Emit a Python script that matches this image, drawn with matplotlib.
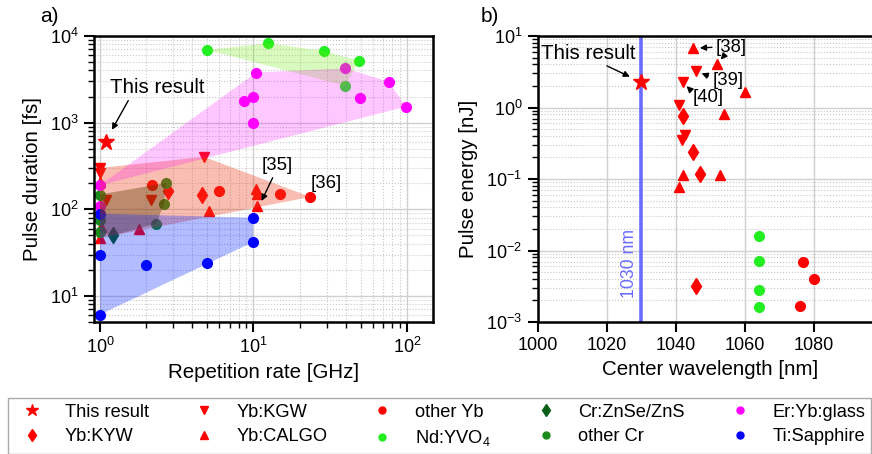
import numpy as np
import matplotlib
matplotlib.use("Agg")
import matplotlib.pyplot as plt
from matplotlib.lines import Line2D

plt.rcParams['font.family'] = ['Liberation Sans', 'DejaVu Sans']
plt.rcParams['mathtext.fontset'] = 'custom'
plt.rcParams['mathtext.rm'] = 'Liberation Sans'
plt.rcParams['mathtext.it'] = 'Liberation Sans:italic'
plt.rcParams['mathtext.bf'] = 'Liberation Sans:bold'

# ---------------- data: panel a (repetition rate [GHz], pulse duration [fs]) ----------------
this_rate, this_dur = [1.09], [600]
kgw_rate = [1.0, 1.0, 1.1, 2.14, 4.76]
kgw_dur = [300, 265, 127, 129, 403]
kyw_rate = [2.79, 4.6]
kyw_dur = [163, 145]
calgo_rate = [1.0, 1.02, 1.0, 1.79, 5.1, 10.4, 10.5, 10.5]
calgo_dur = [207, 62, 46.5, 59, 96, 170, 150, 108]
oyb_rate = [2.18, 5.96, 14.9, 23.5]
oyb_dur = [191, 161, 152, 139]
nd_rate = [5.0, 12.5, 28.8, 48.7, 39.5]
nd_dur = [6900, 8240, 6710, 5190, 2670]
crzn_rate = [1.22]
crzn_dur = [50]
ocr_rate = [1.0, 1.0, 1.0, 2.32, 2.62, 2.69]
ocr_dur = [148, 75, 55, 68, 116, 201]
er_rate = [1.0, 1.0, 10.0, 8.72, 9.9, 10.4, 39.5, 49.2, 76, 98.5]
er_dur = [189, 108, 995, 1790, 1990, 3780, 4240, 1920, 2970, 1530]
er_shaded = [True, False, True, True, True, True, True, True, True, True]
ti_rate = [1.0, 1.0, 1.0, 1.99, 4.96, 9.88, 10.0]
ti_dur = [89, 30, 6.1, 23, 24, 80, 42]

# ---------------- data: panel b (center wavelength [nm], pulse energy [nJ]) ----------------
this_wl, this_en = [1030], [2.27]
kgw_wl = [1046, 1042, 1041, 1042.8, 1041.8]
kgw_en = [3.2, 2.25, 1.1, 0.41, 0.35]
kyw_wl = [1042, 1045, 1047, 1046]
kyw_en = [0.76, 0.24, 0.116, 0.0032]
calgo_wl = [1045, 1052, 1060, 1054, 1042, 1052.8, 1041]
calgo_en = [6.7, 4.1, 1.65, 0.8, 0.112, 0.112, 0.078]
oyb_wl = [1077, 1080, 1076]
oyb_en = [0.0069, 0.004, 0.00168]
nd_wl = [1064, 1064, 1064, 1064]
nd_en = [0.0157, 0.0072, 0.0028, 0.00164]
wl_ticks = [1000, 1020, 1040, 1060, 1080]

# ---------------- styles ----------------
RED = '#ff0000'
C_ND = '#22ee22'
C_CRZN = '#0b5e1a'
C_OCR = '#1a8a1a'
C_ER = '#ff00ff'
C_TI = '#0000ff'


def loghull(xs, ys):
    pts = sorted(set(zip(np.log10(xs), np.log10(ys))))
    if len(pts) < 3:
        return np.array(pts)

    def cross(o, a, b):
        return (a[0] - o[0]) * (b[1] - o[1]) - (a[1] - o[1]) * (b[0] - o[0])
    lower, upper = [], []
    for p in pts:
        while len(lower) >= 2 and cross(lower[-2], lower[-1], p) <= 0:
            lower.pop()
        lower.append(p)
    for p in reversed(pts):
        while len(upper) >= 2 and cross(upper[-2], upper[-1], p) <= 0:
            upper.pop()
        upper.append(p)
    h = np.array(lower[:-1] + upper[:-1])
    return 10 ** h


W, H = 872, 454
fig = plt.figure(figsize=(W / 100, H / 100), dpi=100)

axa = fig.add_axes([94 / W, 1 - 322 / H, (433 - 94) / W, (322 - 36) / H])
axb = fig.add_axes([537.7 / W, 1 - 322 / H, 345 / W, (322 - 36) / H])

for ax in (axa, axb):
    ax.set_axisbelow(True)
    ax.grid(True, which='major', color='#d0d0d0', lw=1.0)
    ax.grid(True, which='minor', color='#c8c8c8', lw=0.8, ls=':')
    for s in ax.spines.values():
        s.set_linewidth(1.8)
    ax.tick_params(which='major', length=7, width=1.5, labelsize=13, pad=4, direction='out')
    ax.tick_params(which='minor', length=4, width=1.0, direction='out')

ms_c, ms_t, ms_d, ms_s = 7, 7.5, 8, 12

# ---------------- panel a ----------------
axa.set_xscale('log')
axa.set_yscale('log')
axa.set_xlim(0.914, 148)
axa.set_ylim(5, 1e4)

axa.plot(kgw_rate, kgw_dur, 'v', color=RED, ms=ms_t, zorder=2)
axa.plot(kyw_rate, kyw_dur, 'd', color=RED, ms=ms_d, zorder=2)
axa.plot(calgo_rate, calgo_dur, '^', color=RED, ms=ms_t, zorder=2)
axa.plot(oyb_rate, oyb_dur, 'o', color=RED, ms=ms_c, zorder=2)
axa.plot(nd_rate, nd_dur, 'o', color=C_ND, ms=ms_c, zorder=2)
axa.plot(crzn_rate, crzn_dur, 'd', color=C_CRZN, ms=ms_d, zorder=2)
axa.plot(ocr_rate, ocr_dur, 'o', color=C_OCR, ms=ms_c, zorder=2)
axa.plot(er_rate, er_dur, 'o', color=C_ER, ms=ms_c, zorder=2)
axa.plot(ti_rate, ti_dur, 'o', color=C_TI, ms=ms_c, zorder=2)
axa.plot(this_rate, this_dur, '*', color=RED, ms=ms_s, zorder=4)

yb_all_r = kgw_rate + kyw_rate + calgo_rate + oyb_rate
yb_all_d = kgw_dur + kyw_dur + calgo_dur + oyb_dur
cr_all_r = crzn_rate + ocr_rate
cr_all_d = crzn_dur + ocr_dur
er_sr = [r for r, f in zip(er_rate, er_shaded) if f]
er_sd = [d for d, f in zip(er_dur, er_shaded) if f]

for xs, ys, col, al in [(yb_all_r, yb_all_d, '#ee4422', 0.35),
                         (nd_rate, nd_dur, '#66ee00', 0.25),
                         (er_sr, er_sd, '#ff00ff', 0.22),
                         (cr_all_r, cr_all_d, '#5a3800', 0.38),
                         (ti_rate, ti_dur, '#0022ff', 0.3)]:
    h = loghull(xs, ys)
    axa.fill(h[:, 0], h[:, 1], color=col, alpha=al, lw=0, zorder=3)

axa.set_xlabel('Repetition rate [GHz]', fontsize=14.8)
axa.set_ylabel('Pulse duration [fs]', fontsize=14.8, labelpad=6)

arw = dict(arrowstyle='-|>', color='black', lw=1.0, mutation_scale=9, shrinkA=1, shrinkB=3)
axa.annotate('This result', xy=(1.16, 750), xytext=(2.35, 2570), fontsize=14.8,
             ha='center', va='center',
             arrowprops=dict(arw, relpos=(0.22, 0.0)), zorder=5)
axa.annotate('[35]', xy=(11.0, 113), xytext=(14.4, 323), fontsize=13.3,
             ha='center', va='center',
             arrowprops=dict(arw, relpos=(0.4, 0.0)), zorder=5)
axa.text(30.0, 200, '[36]', fontsize=13.3, ha='center', va='center', zorder=5)

# ---------------- panel b ----------------
axb.set_yscale('log')
axb.set_xlim(1000, 1100)
axb.set_ylim(1e-3, 10)
axb.set_xticks(wl_ticks)

axb.axvline(1030, color='#6b6bff', lw=2.6, zorder=1.5)
axb.text(1026.5, 0.0066, '1030 nm', rotation=90, color='#6b6bff', fontsize=12.7,
         ha='center', va='center')

axb.plot(kgw_wl, kgw_en, 'v', color=RED, ms=ms_t, zorder=2)
axb.plot(kyw_wl, kyw_en, 'd', color=RED, ms=ms_d, zorder=2)
axb.plot(calgo_wl, calgo_en, '^', color=RED, ms=ms_t, zorder=2)
axb.plot(oyb_wl, oyb_en, 'o', color=RED, ms=ms_c, zorder=2)
axb.plot(nd_wl, nd_en, 'o', color=C_ND, ms=ms_c, zorder=2)
axb.plot(this_wl, this_en, '*', color=RED, ms=ms_s, zorder=4)

axb.set_xlabel('Center wavelength [nm]', fontsize=14.8)
axb.set_ylabel('Pulse energy [nJ]', fontsize=14.8, labelpad=6)

axb.annotate('This result', xy=(1030, 2.27), xytext=(1014.7, 5.78), fontsize=14.8,
             ha='center', va='center',
             arrowprops=dict(arw, relpos=(0.62, 0.0), shrinkB=9), zorder=5)
axb.annotate('[38]', xy=(1045, 6.7), xytext=(1056.2, 7.0), fontsize=13.3,
             ha='center', va='center',
             arrowprops=dict(arw, relpos=(0.0, 0.5), shrinkB=5), zorder=5)
axb.annotate('', xy=(1052, 4.1), xytext=(1056.2, 7.0),
             arrowprops=dict(arw, shrinkA=8, shrinkB=4), zorder=5)
axb.annotate('[39]', xy=(1046, 3.2), xytext=(1055.2, 2.42), fontsize=13.3,
             ha='center', va='center',
             arrowprops=dict(arw, relpos=(0.0, 0.65), shrinkB=4), zorder=5)
axb.annotate('[40]', xy=(1042, 2.25), xytext=(1049.4, 1.36), fontsize=13.3,
             ha='center', va='center',
             arrowprops=dict(arw, relpos=(0.0, 0.85), shrinkB=4), zorder=5)

fig.text(40 / W, 1 - 16 / H, 'a)', fontsize=15, va='center', ha='left')
fig.text(481 / W, 1 - 16 / H, 'b)', fontsize=15, va='center', ha='left')

# ---------------- legend ----------------
labels = ['This result', 'Yb:KYW', 'Yb:KGW', 'Yb:CALGO', 'other Yb', 'Nd:YVO$_4$',
          'Cr:ZnSe/ZnS', 'other Cr', 'Er:Yb:glass', 'Ti:Sapphire']
markers = ['*', 'd', 'v', '^', 'o', 'o', 'd', 'o', 'o', 'o']
colors = [RED, RED, RED, RED, RED, C_ND, C_CRZN, C_OCR, C_ER, C_TI]
sizes = [9, 6, 5.5, 5.5, 5, 5, 6, 5, 5, 5]
handles = [Line2D([], [], ls='none', marker=m, color=c, ms=s)
           for m, c, s in zip(markers, colors, sizes)]
fig.legend(handles, labels, loc='upper left', bbox_to_anchor=(-1 / W, 1 - 389 / H),
           ncol=5, fontsize=13.15, frameon=True, fancybox=False, edgecolor='#aaaaaa',
           framealpha=1, borderpad=0.3, labelspacing=0.42, handletextpad=0.8,
           columnspacing=2.0, handlelength=2.0)

fig.savefig('out.png', dpi=100)
